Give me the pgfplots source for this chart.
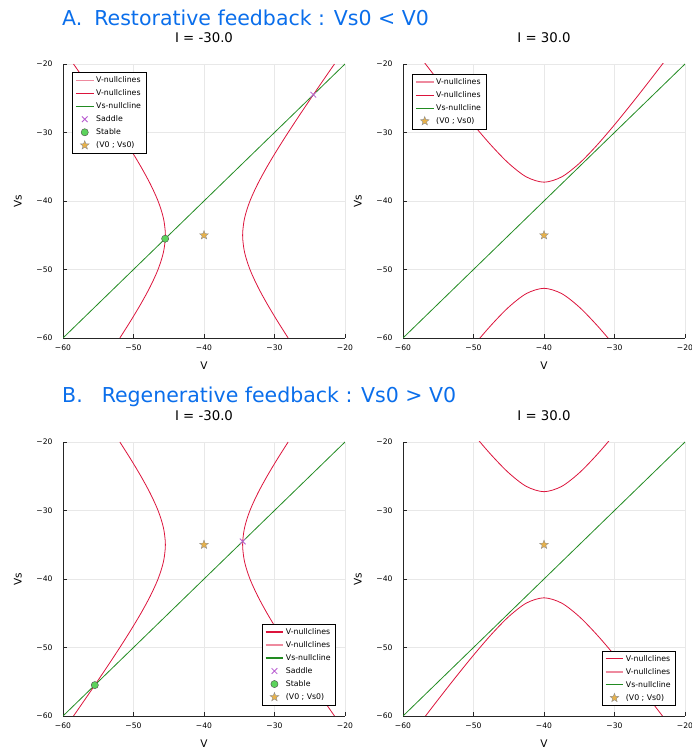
\documentclass[border=0pt]{standalone}
\usepackage{fontspec}
\setmainfont{DejaVu Sans}
\usepackage{pgfplots}
\pgfplotsset{compat=1.18}
\usepackage{pgfplotstable}

\definecolor{crim}{HTML}{DC143C}
\definecolor{crimpale}{HTML}{EE8A9E}
\definecolor{fgreen}{HTML}{228B22}
\definecolor{saddlec}{HTML}{B85AD0}
\definecolor{stablec}{HTML}{5CD35C}
\definecolor{starc}{HTML}{E8B24A}
\definecolor{ttl}{HTML}{0A6EEB}

% filled five-point star
\pgfdeclareplotmark{fstar}{%
  \pgfpathmoveto{\pgfqpointpolar{90}{\pgfplotmarksize}}%
  \pgfpathlineto{\pgfqpointpolar{126}{.42\pgfplotmarksize}}%
  \pgfpathlineto{\pgfqpointpolar{162}{\pgfplotmarksize}}%
  \pgfpathlineto{\pgfqpointpolar{198}{.42\pgfplotmarksize}}%
  \pgfpathlineto{\pgfqpointpolar{234}{\pgfplotmarksize}}%
  \pgfpathlineto{\pgfqpointpolar{270}{.42\pgfplotmarksize}}%
  \pgfpathlineto{\pgfqpointpolar{306}{\pgfplotmarksize}}%
  \pgfpathlineto{\pgfqpointpolar{342}{.42\pgfplotmarksize}}%
  \pgfpathlineto{\pgfqpointpolar{18}{\pgfplotmarksize}}%
  \pgfpathlineto{\pgfqpointpolar{54}{.42\pgfplotmarksize}}%
  \pgfpathclose
  \pgfusepathqfillstroke}

% I = -30 : V-nullcline branches, V as function of Vs
\pgfplotstableread{
Vs     L        R
-60   -51.937  -28.063
-57.5 -50.398  -29.602
-55   -48.944  -31.056
-52.5 -47.624  -32.376
-50   -46.519  -33.481
-47.5 -45.755  -34.245
-45   -45.477  -34.523
-42.5 -45.755  -34.245
-40   -46.519  -33.481
-37.5 -47.624  -32.376
-35   -48.944  -31.056
-32.5 -50.398  -29.602
-30   -51.937  -28.063
-27.5 -53.532  -26.468
-25   -55.166  -24.834
-22.5 -56.826  -23.174
-20   -58.507  -21.493
}\nullAneg
\pgfplotstableread{
Vs     L        R
-60   -58.507  -21.493
-57.5 -56.826  -23.174
-55   -55.166  -24.834
-52.5 -53.532  -26.468
-50   -51.937  -28.063
-47.5 -50.398  -29.602
-45   -48.944  -31.056
-42.5 -47.624  -32.376
-40   -46.519  -33.481
-37.5 -45.755  -34.245
-35   -45.477  -34.523
-32.5 -45.755  -34.245
-30   -46.519  -33.481
-27.5 -47.624  -32.376
-25   -48.944  -31.056
-22.5 -50.398  -29.602
-20   -51.937  -28.063
}\nullBneg
% I = 30 : V-nullcline branches, Vs as function of V
\pgfplotstableread{
V      up       low
-60   -15.674  -74.326
-57.5 -19.067  -70.933
-55   -22.417  -67.583
-52.5 -25.700  -64.300
-50   -28.875  -61.125
-47.5 -31.866  -58.134
-45   -34.512  -55.488
-42.5 -36.485  -53.515
-40   -37.254  -52.746
-37.5 -36.485  -53.515
-35   -34.512  -55.488
-32.5 -31.866  -58.134
-30   -28.875  -61.125
-27.5 -25.700  -64.300
-25   -22.417  -67.583
-22.5 -19.067  -70.933
-20   -15.674  -74.326
}\nullApos
\pgfplotstableread{
V      up       low
-60    -5.674  -64.326
-57.5  -9.067  -60.933
-55   -12.417  -57.583
-52.5 -15.700  -54.300
-50   -18.875  -51.125
-47.5 -21.866  -48.134
-45   -24.512  -45.488
-42.5 -26.485  -43.515
-40   -27.254  -42.746
-37.5 -26.485  -43.515
-35   -24.512  -45.488
-32.5 -21.866  -48.134
-30   -18.875  -51.125
-27.5 -15.700  -54.300
-25   -12.417  -57.583
-22.5  -9.067  -60.933
-20    -5.674  -64.326
}\nullBpos

\pgfplotsset{
  pan/.style={
    scale only axis, width=282pt, height=274pt,
    xmin=-60, xmax=-20, ymin=-60, ymax=-20,
    xtick={-60,-50,-40,-30,-20}, ytick={-60,-50,-40,-30,-20},
    xticklabels={−60,−50,−40,−30,−20}, yticklabels={−60,−50,−40,−30,−20},
    axis x line*=bottom, axis y line*=left,
    axis line style={-, black!85, line width=0.6pt},
    tick align=inside, major tick length=4pt,
    tick style={black!85, line width=0.6pt},
    grid=major, grid style={black!9, line width=0.5pt},
    tick label style={font=\fontsize{7.6}{9}\selectfont},
    xticklabel style={yshift=-3pt}, yticklabel style={xshift=-7pt},
    xlabel={V}, ylabel={Vs},
    label style={font=\fontsize{10.5}{12}\selectfont},
    xlabel style={at={(axis description cs:0.5,-0.1)}, anchor=center},
    ylabel style={at={(axis description cs:-0.16,0.5)}, anchor=center},
    title style={at={(axis description cs:0.5,1.073)}, anchor=center,
      font=\fontsize{13.3}{15}\selectfont},
    legend style={draw=black, line width=0.5pt,
      font=\fontsize{7.8}{9}\selectfont, row sep=1.6pt,
      inner xsep=3pt, inner ysep=2pt},
    legend cell align=left,
    legend image code/.code={\draw[#1] (0cm,0cm) -- (0.62cm,0cm);},
  },
  vn/.style={color=crim, line width=0.8pt, smooth},
  vsn/.style={color=fgreen, line width=0.8pt},
  lgpale/.style={draw=crimpale, line width=1.3pt},
  lgcrim/.style={draw=crim, line width=1.1pt},
  lggreen/.style={draw=fgreen, line width=1.1pt},
  mksad/.style={only marks, mark=x, mark size=4pt, color=saddlec, line width=0.8pt,
    legend image code/.code={\draw[mark repeat=2,mark phase=2,##1] plot coordinates {(0cm,0cm) (0.31cm,0cm) (0.62cm,0cm)};}},
  mkst/.style={only marks, mark=*, mark size=3.6pt, color=black!70, fill=stablec, line width=0.4pt,
    legend image code/.code={\draw[mark repeat=2,mark phase=2,##1] plot coordinates {(0cm,0cm) (0.31cm,0cm) (0.62cm,0cm)};}},
  mkstar/.style={only marks, mark=fstar, mark size=4.6pt, color=black!45, fill=starc, line width=0.4pt,
    legend image code/.code={\draw[mark repeat=2,mark phase=2,##1] plot coordinates {(0cm,0cm) (0.31cm,0cm) (0.62cm,0cm)};}},
}

\begin{document}
\begin{tikzpicture}
\useasboundingbox (0,0) rectangle (691pt,749pt);

\node[anchor=west, text=ttl, font=\fontsize{20.5}{23}\selectfont, inner sep=0pt]
  at (62pt,731pt) {A.\hspace{12pt}Restorative feedback : Vs0 < V0};
\node[anchor=west, text=ttl, font=\fontsize{20.5}{23}\selectfont, inner sep=0pt]
  at (62pt,352pt) {B.\hspace{19pt}Regenerative feedback : Vs0 > V0};

% A, I = -30
\begin{axis}[pan, at={(63pt,411pt)}, anchor=south west, title={I = -30.0},
  legend style={at={(axis description cs:0.032,0.97)}, anchor=north west}]
\addplot[vn, forget plot] table[x=L, y=Vs] {\nullAneg};
\addplot[vn, forget plot] table[x=R, y=Vs] {\nullAneg};
\addplot[vsn, forget plot] coordinates {(-60,-60) (-20,-20)};
\addplot[mksad, forget plot] coordinates {(-24.49,-24.49)};
\addplot[mkst, forget plot] coordinates {(-45.51,-45.51)};
\addplot[mkstar, forget plot] coordinates {(-40,-45)};
\addlegendimage{lgpale}\addlegendentry{V-nullclines}
\addlegendimage{lgcrim}\addlegendentry{V-nullclines}
\addlegendimage{lggreen}\addlegendentry{Vs-nullcline}
\addlegendimage{mksad}\addlegendentry{Saddle}
\addlegendimage{mkst}\addlegendentry{Stable}
\addlegendimage{mkstar}\addlegendentry{(V0 ; Vs0)}
\end{axis}

% A, I = 30
\begin{axis}[pan, at={(403pt,411pt)}, anchor=south west, title={I = 30.0},
  legend style={at={(axis description cs:0.032,0.963)}, anchor=north west}]
\addplot[vn, forget plot] table[x=V, y=up] {\nullApos};
\addplot[vn, forget plot] table[x=V, y=low] {\nullApos};
\addplot[vsn, forget plot] coordinates {(-60,-60) (-20,-20)};
\addplot[mkstar, forget plot] coordinates {(-40,-45)};
\addlegendimage{lgpale}\addlegendentry{V-nullclines}
\addlegendimage{lgcrim}\addlegendentry{V-nullclines}
\addlegendimage{lggreen}\addlegendentry{Vs-nullcline}
\addlegendimage{mkstar}\addlegendentry{(V0 ; Vs0)}
\end{axis}

% B, I = -30
\begin{axis}[pan, at={(63pt,33pt)}, anchor=south west, title={I = -30.0},
  legend style={at={(axis description cs:0.968,0.04)}, anchor=south east}]
\addplot[vn, forget plot] table[x=L, y=Vs] {\nullBneg};
\addplot[vn, forget plot] table[x=R, y=Vs] {\nullBneg};
\addplot[vsn, forget plot] coordinates {(-60,-60) (-20,-20)};
\addplot[mksad, forget plot] coordinates {(-34.51,-34.51)};
\addplot[mkst, forget plot] coordinates {(-55.49,-55.49)};
\addplot[mkstar, forget plot] coordinates {(-40,-35)};
\addlegendimage{lgcrim}\addlegendentry{V-nullclines}
\addlegendimage{lgpale}\addlegendentry{V-nullclines}
\addlegendimage{lggreen}\addlegendentry{Vs-nullcline}
\addlegendimage{mksad}\addlegendentry{Saddle}
\addlegendimage{mkst}\addlegendentry{Stable}
\addlegendimage{mkstar}\addlegendentry{(V0 ; Vs0)}
\end{axis}

% B, I = 30
\begin{axis}[pan, at={(403pt,33pt)}, anchor=south west, title={I = 30.0},
  legend style={at={(axis description cs:0.968,0.037)}, anchor=south east}]
\addplot[vn, forget plot] table[x=V, y=up] {\nullBpos};
\addplot[vn, forget plot] table[x=V, y=low] {\nullBpos};
\addplot[vsn, forget plot] coordinates {(-60,-60) (-20,-20)};
\addplot[mkstar, forget plot] coordinates {(-40,-35)};
\addlegendimage{lgcrim}\addlegendentry{V-nullclines}
\addlegendimage{lgpale}\addlegendentry{V-nullclines}
\addlegendimage{lggreen}\addlegendentry{Vs-nullcline}
\addlegendimage{mkstar}\addlegendentry{(V0 ; Vs0)}
\end{axis}
\end{tikzpicture}
\end{document}
